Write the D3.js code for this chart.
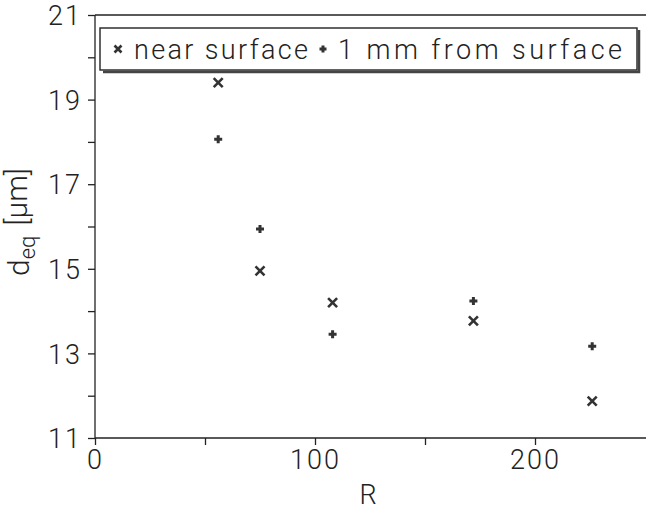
<!DOCTYPE html>
<html lang="en">
	<head>
		<meta charset="utf-8">
		<title>d_eq versus R</title>
		<script type="text/javascript" src="https://d3js.org/d3.v7.min.js"></script>
		<style type="text/css">
			body { margin: 0; background: #fff; }
			text { font-family: Roboto, "DejaVu Sans", sans-serif; font-weight: 300; fill: #222; }
		</style>
	</head>
	<body>
		<script type="text/javascript">

			//Width and height
			var w = 646;
			var h = 511;

			// data
			var rValues = [56, 75, 108, 172, 226];
			var nearSurface = [19.4, 14.95, 14.2, 13.77, 11.87];
			var fromSurface = [18.06, 15.94, 13.45, 14.24, 13.17];

			var xTicks = [0, 50, 100, 150, 200];
			var xLabels = [0, 100, 200];
			var yTicks = [11, 12, 13, 14, 15, 16, 17, 18, 19, 20, 21];
			var yLabels = [11, 13, 15, 17, 19, 21];
			var legendLabels = ["near surface", "1 mm from surface"];

			var ink = "#222";

			var x = d3.scaleLinear().domain([0, 250]).range([95, 645]);
			var y = d3.scaleLinear().domain([11, 21]).range([438, 15]);

			var svg = d3.select("body")
						.append("svg")
						.attr("width", w)
						.attr("height", h);

			// top frame line
			svg.append("line")
			   .attr("x1", x(0)).attr("x2", w)
			   .attr("y1", y(21)).attr("y2", y(21))
			   .attr("stroke", ink)
			   .attr("stroke-width", 1.3);

			var xAxis = d3.axisBottom(x)
						  .tickValues(xTicks)
						  .tickSize(7)
						  .tickPadding(5)
						  .tickFormat(function(d) {
						  	return xLabels.indexOf(d) >= 0 ? d : "";
						  });

			var yAxis = d3.axisLeft(y)
						  .tickValues(yTicks)
						  .tickSize(7)
						  .tickPadding(6)
						  .tickFormat(function(d) {
						  	return yLabels.indexOf(d) >= 0 ? d : "";
						  });

			var gx = svg.append("g")
						.attr("transform", "translate(0," + y(11) + ")")
						.call(xAxis);
			gx.select(".domain").attr("d", "M" + x(0) + ",0H" + w);

			var gy = svg.append("g")
						.attr("transform", "translate(" + x(0) + ",0)")
						.call(yAxis);
			gy.select(".domain").attr("d", "M0," + y(21) + "V" + y(11));

			svg.selectAll(".domain, .tick line")
			   .attr("stroke", ink)
			   .attr("stroke-width", 1.3);
			svg.selectAll(".tick text")
			   .attr("font-family", null)
			   .attr("font-size", null)
			   .style("font-size", "27px")
			   .style("letter-spacing", "2px")
			   .style("fill", ink);
			gy.selectAll(".tick text").attr("dy", "0.36em");

			// axis titles
			svg.append("text")
			   .attr("x", 368)
			   .attr("y", 504)
			   .attr("text-anchor", "middle")
			   .style("font-size", "27px")
			   .text("R");

			var yTitle = svg.append("text")
			   .attr("transform", "translate(29,222) rotate(-90)")
			   .attr("text-anchor", "middle")
			   .style("font-size", "30px");
			yTitle.append("tspan").text("d");
			yTitle.append("tspan").attr("dy", "0.28em").style("font-size", "22px").text("eq");
			yTitle.append("tspan").attr("dy", "-0.28em").attr("dx", "10").text("[μm]");

			// marker drawing helpers
			function cross(sel, s) {
				sel.append("path")
				   .attr("d", "M" + (-s) + "," + (-s) + "L" + s + "," + s + "M" + (-s) + "," + s + "L" + s + "," + (-s))
				   .attr("stroke", "#333")
				   .attr("stroke-width", 2.6)
				   .attr("fill", "none");
			}
			function plus(sel, s) {
				sel.append("path")
				   .attr("d", "M" + (-s) + ",0H" + s + "M0," + (-s) + "V" + s)
				   .attr("stroke", "#333")
				   .attr("stroke-width", 3)
				   .attr("fill", "none");
			}

			svg.selectAll("g.near")
			   .data(rValues)
			   .enter()
			   .append("g")
			   .attr("class", "near")
			   .attr("transform", function(d, i) {
			   		return "translate(" + x(d) + "," + y(nearSurface[i]) + ")";
			   })
			   .each(function() { cross(d3.select(this), 4.5); });

			svg.selectAll("g.from")
			   .data(rValues)
			   .enter()
			   .append("g")
			   .attr("class", "from")
			   .attr("transform", function(d, i) {
			   		return "translate(" + x(d) + "," + y(fromSurface[i]) + ")";
			   })
			   .each(function() { plus(d3.select(this), 4); });

			// legend box with a little shadow
			var lg = svg.append("g");
			lg.append("path")
			  .attr("d", "M103,72H639V30")
			  .attr("stroke", "#444")
			  .attr("stroke-width", 2.5)
			  .attr("fill", "none");
			lg.append("rect")
			  .attr("x", 100).attr("y", 28)
			  .attr("width", 537).attr("height", 42)
			  .attr("fill", "#fff")
			  .attr("stroke", ink)
			  .attr("stroke-width", 1.4);

			var legendItems = [
				{ label: legendLabels[0], mx: 118, tx: 134, tw: 174, draw: cross, s: 3.5 },
				{ label: legendLabels[1], mx: 323, tx: 338, tw: 284, draw: plus, s: 3.5 }
			];

			legendItems.forEach(function(it) {
				var m = lg.append("g").attr("transform", "translate(" + it.mx + ",49)");
				it.draw(m, it.s);
				lg.append("text")
				  .attr("x", it.tx)
				  .attr("y", 59)
				  .attr("textLength", it.tw)
				  .attr("lengthAdjust", "spacing")
				  .style("font-size", "27px")
				  .text(it.label);
			});

		</script>
	</body>
</html>
